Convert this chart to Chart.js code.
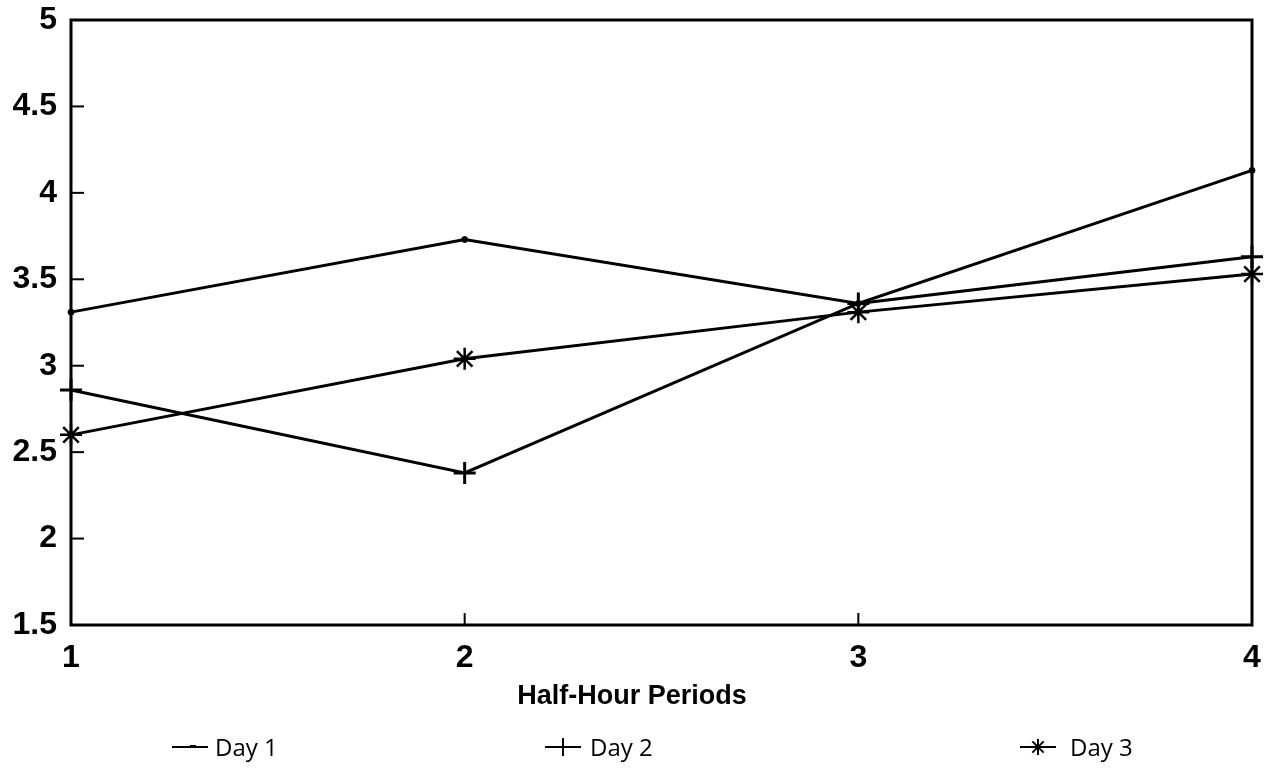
<!DOCTYPE html>
<html><head><meta charset="utf-8">
<script src="https://cdn.jsdelivr.net/npm/chart.js@4/dist/chart.umd.min.js"></script>
<style>html,body{margin:0;padding:0;background:#fff;}#wrap{width:1266px;height:768px;position:relative;}</style>
</head><body><div id="wrap"><canvas id="c" width="1266" height="768"></canvas></div>
<script>
const periods = ['1', '2', '3', '4'];
const day1 = [3.31, 3.73, 3.36, 4.13];
const day2 = [2.86, 2.38, 3.36, 3.63];
const day3 = [2.60, 3.04, 3.31, 3.53];
const seriesLabels = ['Day 1', 'Day 2', 'Day 3'];
const yTickLabels = ['1.5', '2', '2.5', '3', '3.5', '4', '4.5', '5'];
const xTitle = 'Half-Hour Periods';

const frame = {
  id: 'frame',
  afterDatasetsDraw(chart) {
    const {ctx, chartArea: a, scales: {x, y}} = chart;
    ctx.save();
    ctx.strokeStyle = '#000';
    ctx.lineWidth = 3;
    ctx.strokeRect(a.left, a.top, a.right - a.left, a.bottom - a.top);
    ctx.lineWidth = 2;
    y.ticks.forEach(t => {
      if (t.value > 1.5 && t.value < 5) {
        const py = y.getPixelForValue(t.value);
        ctx.beginPath(); ctx.moveTo(a.left, py); ctx.lineTo(a.left + 13, py); ctx.stroke();
      }
    });
    [1, 2].forEach(i => {
      const px = x.getPixelForValue(i);
      ctx.beginPath(); ctx.moveTo(px, a.bottom); ctx.lineTo(px, a.bottom - 12); ctx.stroke();
    });
    ctx.restore();
  },
  afterDraw(chart) {
    const ctx = chart.ctx;
    ctx.save();
    ctx.fillStyle = '#000';
    ctx.font = 'bold 27px "Liberation Sans Narrow", "Liberation Sans", sans-serif';
    ctx.textAlign = 'center';
    ctx.textBaseline = 'middle';
    ctx.fillText(xTitle, 632, 697);
    const legendPos = [[172, 215], [545, 590], [1020, 1070]];
    ctx.font = '24px "Open Sans", sans-serif';
    ctx.textAlign = 'left';
    chart.data.datasets.forEach((ds, i) => {
      const [lx, tx] = legendPos[i];
      const ly = 747;
      ctx.strokeStyle = '#000';
      ctx.lineWidth = 2;
      ctx.beginPath(); ctx.moveTo(lx, ly); ctx.lineTo(lx + 36, ly); ctx.stroke();
      const mx = lx + 18;
      if (i === 0) {
        ctx.fillRect(mx, ly - 2, 6, 3);
      } else if (i === 1) {
        ctx.beginPath(); ctx.moveTo(mx, ly - 9); ctx.lineTo(mx, ly + 9); ctx.stroke();
      } else {
        for (let k = 0; k < 4; k++) {
          const ang = k * Math.PI / 4;
          ctx.beginPath();
          ctx.moveTo(mx - 8 * Math.cos(ang), ly - 8 * Math.sin(ang));
          ctx.lineTo(mx + 8 * Math.cos(ang), ly + 8 * Math.sin(ang));
          ctx.stroke();
        }
      }
      ctx.fillText(ds.label, tx, ly + 2);
    });
    ctx.restore();
  }
};

new Chart(document.getElementById('c'), {
  type: 'line',
  data: {
    labels: periods,
    datasets: [
      {label: seriesLabels[0], data: day1, borderColor: '#000', backgroundColor: '#000', borderWidth: 3, pointStyle: 'circle', pointRadius: 3, pointBorderWidth: 1},
      {label: seriesLabels[1], data: day2, borderColor: '#000', backgroundColor: '#000', borderWidth: 3, pointStyle: 'cross', pointRadius: 11, pointBorderWidth: 3},
      {label: seriesLabels[2], data: day3, borderColor: '#000', backgroundColor: '#000', borderWidth: 3, pointStyle: 'star', pointRadius: 11, pointBorderWidth: 2.5}
    ]
  },
  options: {
    responsive: false,
    animation: false,
    clip: false,
    layout: {padding: {left: 0, right: 13, top: 20, bottom: 0}},
    plugins: {legend: {display: false}, tooltip: {enabled: false}},
    scales: {
      x: {
        offset: false,
        grid: {display: false, drawTicks: false},
        border: {display: false},
        ticks: {color: '#000', font: {family: '"Liberation Sans", Arial, sans-serif', weight: 'bold', size: 32}, padding: 14, maxRotation: 0},
        afterFit(s) { s.height = 143; s.paddingLeft = 0; s.paddingRight = 0; }
      },
      y: {
        min: 1.5, max: 5,
        grid: {display: false, drawTicks: false},
        border: {display: false},
        ticks: {stepSize: 0.5, color: '#000', font: {family: '"Liberation Sans", Arial, sans-serif', weight: 'bold', size: 32}, padding: 14,
          callback: (v) => yTickLabels[Math.round((v - 1.5) / 0.5)]},
        afterFit(s) { s.width = 71; s.paddingTop = 0; s.paddingBottom = 0; }
      }
    }
  },
  plugins: [frame]
});
</script></body></html>
